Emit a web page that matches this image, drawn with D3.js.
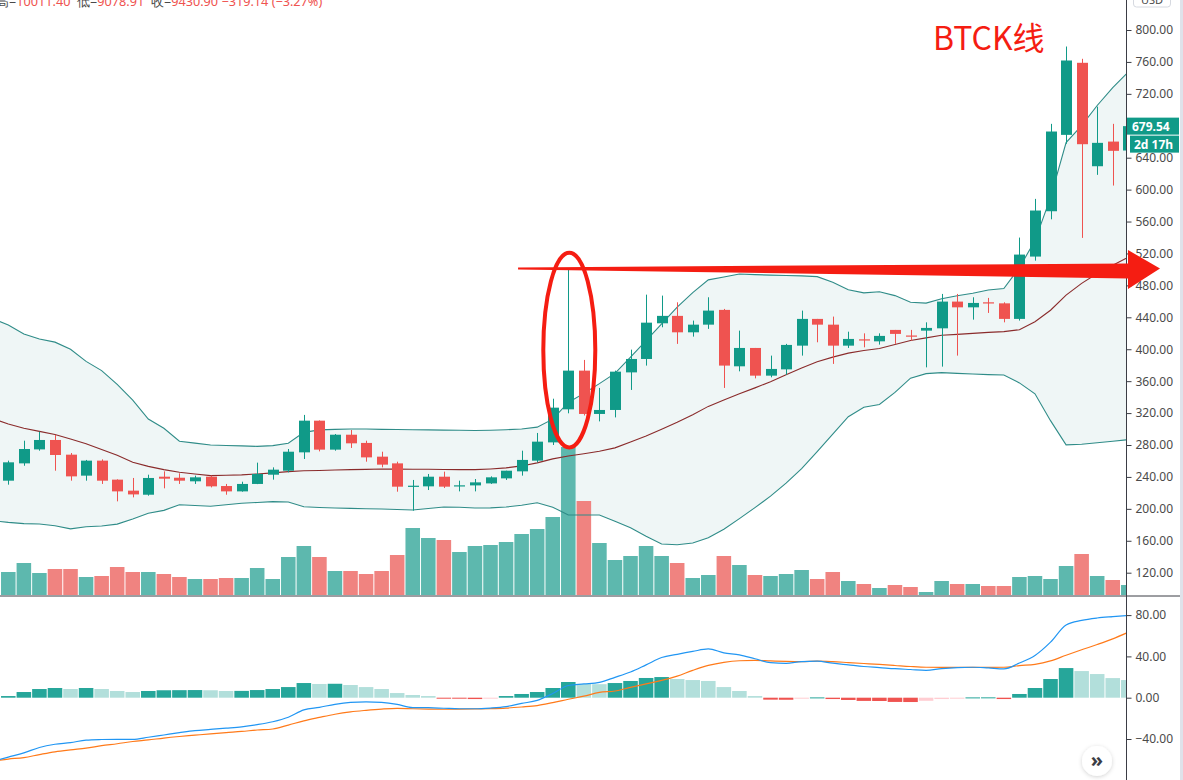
<!DOCTYPE html>
<html><head><meta charset="utf-8">
<script src="https://cdn.jsdelivr.net/npm/d3@7"></script>
<style>
html,body{margin:0;padding:0;background:#fff;overflow:hidden}
svg{display:block;font-family:"Noto Sans",sans-serif}
</style></head><body>
<svg id="c" width="1183" height="780"></svg>
<script>
// ---------- DATA ----------
const opens  = [235.3,257.0,274.5,286.3,267.9,241.6,260.4,236.6,222.8,217.7,240.3,239.0,234.5,240.3,228.6,221.9,231.2,242.8,247.8,270.8,310.5,274.2,292.9,282.6,265.4,257.0,228.2,228.2,240.3,229.0,229.4,231.9,238.2,247.0,260.4,283.3,324.7,373.2,318.9,323.9,371.0,387.8,432.5,441.8,421.2,430.8,449.3,378.6,401.6,366.9,374.8,404.5,438.0,430.8,404.5,412.4,409.9,424.2,417.2,423.3,426.2,459.7,452.5,458.8,457.5,438.0,516.1,572.9,668.6,758.9,629.3,660.2,649.0];
const highs  = [260.4,285.4,296.7,292.6,270.0,261.3,262.0,237.0,238.7,242.8,247.0,244.5,241.6,241.6,231.2,234.0,257.9,252.0,275.0,317.7,310.8,293.8,298.8,285.4,271.6,259.1,236.2,243.7,246.6,235.3,237.4,240.7,247.8,272.9,295.1,338.0,500.7,386.6,351.5,373.2,399.5,468.4,467.2,458.8,435.9,465.1,450.5,423.3,401.6,392.0,406.7,448.4,438.0,440.9,422.0,419.9,419.9,424.2,424.2,433.7,469.3,469.3,465.1,464.3,458.8,539.9,588.4,682.4,779.3,763.9,704.0,682.4,682.0];
const lows   = [230.3,254.0,272.9,247.8,235.3,235.3,231.2,209.4,214.4,216.5,225.7,231.2,231.2,226.9,217.7,221.5,231.0,236.6,245.7,262.5,272.0,272.9,276.3,259.1,252.0,221.5,197.7,223.6,226.1,221.9,221.9,231.2,236.2,241.6,258.3,280.0,319.7,317.0,309.6,314.6,349.0,379.5,427.5,406.7,415.8,425.5,351.5,372.3,363.5,364.8,368.0,392.0,408.7,381.6,401.6,402.4,405.8,406.7,410.8,377.3,378.2,392.0,437.1,445.5,433.7,435.9,511.0,562.8,657.4,539.5,618.5,605.1,640.0];
const closes = [258.3,275.0,286.3,267.5,240.7,260.4,235.3,221.9,218.1,238.7,237.8,235.3,239.5,228.2,221.9,231.2,243.7,249.1,271.6,310.5,274.2,292.9,282.1,264.5,255.4,227.8,229.0,240.3,227.8,229.5,233.2,239.5,247.8,261.3,284.2,326.8,373.2,318.9,323.9,371.9,387.8,433.3,441.8,421.2,430.8,448.4,379.5,401.6,366.9,375.3,405.4,438.0,430.8,404.5,412.9,411.6,416.7,419.2,416.5,426.7,459.7,452.5,458.0,458.0,438.0,518.6,573.8,672.8,761.8,656.9,658.6,648.6,679.54];
const volumes = [23,32,22,26,26,18,19,28,23,23,21,18,16,16,17,17,27,16,38,49,38,24,24,21,24,40,67,57,55,43,49,50,53,61,66,78,148,94,52,35,39,49,39,32,17,20,39,30,20,19,21,25,16,23,14,11,7,10,8,3,14,11,11,9,9,18,19,16,29,41,19,15,10];
// Bollinger bands (first value belongs to the bar just left of the visible range)
const bbUpper = [438.4,430.3,419.2,412.9,408.9,399.9,384.8,373.2,355.9,336.3,312.6,301.0,284.8,282.3,280.0,279.4,278.9,278.3,279.2,282.2,295.8,299.0,299.6,300.1,300.0,299.6,299.5,299.2,299.0,298.6,298.4,298.1,298.5,299.2,300.0,302.4,312.4,333.3,344.7,356.9,369.8,390.2,410.8,431.7,452.8,471.0,486.9,490.6,494.3,493.5,492.9,492.4,491.9,491.0,484.0,474.6,470.6,472.1,467.2,458.8,457.8,463.3,467.1,470.1,474.3,476.0,502.3,536.1,590.0,659.0,680.3,705.4,727.9,747.4];
const bbBasis = [313.0,306.4,301.1,297.1,293.1,287.6,281.7,274.3,267.1,258.4,253.2,249.2,245.8,243.6,241.6,242.1,242.6,243.7,245.1,246.7,247.8,248.1,248.6,249.1,249.5,250.0,249.8,249.7,249.6,249.3,249.2,249.1,250.0,251.3,253.8,257.6,262.6,266.3,269.1,272.1,276.4,283.7,291.2,299.7,308.4,318.0,328.4,336.3,344.1,351.6,359.4,367.9,376.6,384.2,390.1,395.1,398.4,401.0,405.9,410.9,414.2,417.6,418.6,419.9,421.1,422.1,424.4,434.4,448.9,467.9,482.5,494.8,505.1,515.5];
const bbLower = [185.2,183.0,181.5,181.0,178.9,174.9,177.5,178.5,180.9,187.2,194.4,198.1,205.1,204.2,203.2,205.2,207.0,208.0,209.0,208.5,202.7,201.7,201.0,200.6,200.2,199.8,199.2,198.6,200.4,202.3,202.0,201.0,201.2,202.3,204.5,207.6,202.1,192.3,192.3,192.3,184.5,176.4,165.7,156.0,155.1,157.3,163.8,174.5,187.7,201.5,215.9,232.2,250.3,271.6,293.6,315.5,327.3,330.7,345.9,363.7,369.4,370.7,369.8,368.9,368.2,367.7,357.8,344.1,310.5,280.2,281.0,282.9,284.8,286.7];
// MACD (line arrays: first value belongs to the bar just left of the visible range)
const macdLine = [-61.8,-57.6,-53.5,-48.2,-45.1,-43.5,-41.1,-40.5,-40.3,-40.3,-38.3,-36.1,-33.9,-31.9,-30.7,-29.5,-28.2,-26.1,-23.3,-18.9,-11.8,-9.3,-6.4,-4.6,-4.1,-4.6,-6.5,-9.6,-9.7,-10.2,-10.7,-10.7,-10.0,-8.6,-5.5,-2.6,4.1,11.8,13.3,14.9,19.7,24.9,31.8,38.9,42.0,44.8,47.2,43.5,41.5,37.7,33.9,33.3,35.0,35.4,33.4,31.8,30.2,29.2,28.1,27.3,26.5,28.2,29.2,29.5,28.8,27.9,33.6,40.9,53.8,70.5,74.9,77.2,78.5,79.6];
const signalLine = [-61.3,-59.4,-58.0,-55.1,-52.4,-50.5,-48.9,-46.5,-44.6,-42.4,-40.9,-39.1,-37.6,-36.3,-35.0,-33.8,-32.7,-31.3,-30.3,-26.5,-22.4,-19.1,-16.0,-13.7,-12.2,-11.0,-10.3,-10.7,-11.0,-11.2,-11.0,-10.8,-10.6,-10.1,-9.0,-7.6,-4.7,-1.5,1.5,5.1,6.5,10.0,13.4,16.7,20.9,26.5,31.3,34.3,35.8,36.1,35.6,35.2,35.0,35.4,34.9,34.0,33.1,32.2,31.2,30.2,29.5,29.4,29.4,29.4,29.4,29.5,31.1,32.3,35.6,41.1,46.4,51.5,57.0,63.4];
const histogram = [1.6,5.5,8.4,9.4,8.4,9.4,8.4,6.5,5.5,6.5,7.2,7.3,7.4,7.2,6.5,6.6,7.4,8.4,10.3,14.2,13.3,13.5,12.3,10.3,8.4,4.5,2.6,1.6,-0.4,-0.6,-1.3,-0.3,1.6,3.6,5.5,9.4,15.2,13.3,13.1,14.2,16.2,19.1,20.0,18.1,17.1,16.2,10.3,6.5,1.6,-1.9,-2.0,-0.3,0.3,-1.3,-2.2,-3.1,-3.2,-4.1,-4.2,-3.0,-1.3,-0.5,0.3,0.35,-1.3,3.6,9.4,18.1,28.7,25.8,22.9,19.0,17.1];
const priceTicks = [120,160,200,240,280,320,360,400,440,480,520,560,600,640,680,720,760,800];
const macdTicks = [-40,0,40,80];
const lastPrice = 679.54;
const countdown = "2d 17h";
const headerParts = [["高=","k"],["10011.40","r"],["  低=","k"],["9078.91","r"],["  收=","k"],["9430.90 −319.14 (−3.27%)","r"]];
const annotation = "BTCK线";

// ---------- LAYOUT ----------
const AX = 1126, MAIN_B = 595.5, MACD_T = 597;
const svg = d3.select('#c');
const x = d3.scaleLinear().domain([0,72]).range([8.3,1128.3]);
const step = x(1)-x(0);
const yP = d3.scaleLinear().domain([120,800]).range([572.7,30]);
const yV = d3.scaleLinear().domain([0,150]).range([595,445]);
const yM = d3.scaleLinear().domain([-40,80]).range([739,615.1]);
const UP='#109a88', DN='#ef5350';

const defs = svg.append('defs');
defs.append('clipPath').attr('id','cm').append('rect').attr('x',0).attr('y',0).attr('width',AX).attr('height',MAIN_B);
defs.append('clipPath').attr('id','cd').append('rect').attr('x',0).attr('y',MACD_T).attr('width',AX).attr('height',780-MACD_T);
const f = defs.append('filter').attr('id','sh').attr('x','-50%').attr('y','-50%').attr('width','200%').attr('height','200%');
f.append('feDropShadow').attr('dx',0).attr('dy',1).attr('stdDeviation',2).attr('flood-color','#000').attr('flood-opacity',0.18);

svg.append('rect').attr('width',1183).attr('height',780).attr('fill','#fff');

const main = svg.append('g').attr('clip-path','url(#cm)');
const lineIdx = d3.range(-1,73);

// BB fill
main.append('path').datum(lineIdx)
  .attr('d', d3.area().x(i=>x(i)).y0(i=>yP(bbLower[i+1])).y1(i=>yP(bbUpper[i+1])))
  .attr('fill','#eff6f6');

// volumes
main.selectAll('rect.vol').data(volumes).join('rect').attr('class','vol')
  .attr('x',(d,i)=>x(i)-step/2+0.5).attr('width',step-1)
  .attr('y',d=>yV(d)).attr('height',d=>yV(0)-yV(d))
  .attr('fill',(d,i)=>closes[i]>=opens[i]?'#5db8ae':'#f08380');

// BB lines
const bl = (arr)=>d3.line().x(i=>x(i)).y(i=>yP(arr[i+1]));
main.append('path').datum(lineIdx).attr('d',bl(bbUpper)).attr('fill','none').attr('stroke','#2f8c88').attr('stroke-width',1.1);
main.append('path').datum(lineIdx).attr('d',bl(bbLower)).attr('fill','none').attr('stroke','#2f8c88').attr('stroke-width',1.1);
main.append('path').datum(lineIdx).attr('d',bl(bbBasis)).attr('fill','none').attr('stroke','#8a2b2b').attr('stroke-width',1.1);

// candles
const cg = main.append('g');
opens.forEach((o,i)=>{
  const c=closes[i], col=c>=o?UP:DN, cx=Math.round(x(i))+0.5;
  cg.append('line').attr('x1',cx).attr('x2',cx).attr('y1',yP(highs[i])).attr('y2',yP(lows[i])).attr('stroke',col).attr('stroke-width',1);
  const top=yP(Math.max(o,c)), bot=yP(Math.min(o,c));
  cg.append('rect').attr('x',cx-5.5).attr('width',11).attr('y',top).attr('height',Math.max(1.2,bot-top)).attr('fill',col);
});

// MACD pane
const md = svg.append('g').attr('clip-path','url(#cd)');
md.selectAll('rect.h').data(histogram).join('rect').attr('class','h')
  .attr('x',(d,i)=>x(i)-step/2+0.5).attr('width',step-1)
  .attr('y',d=>Math.min(yM(0),yM(d))).attr('height',d=>Math.max(1,Math.abs(yM(d)-yM(0))))
  .attr('fill',(d,i)=>{
    const prev = i>0?histogram[i-1]:-Infinity;
    if(d>=0) return d>prev?'#26a69a':'#b2dfdb';
    return d>prev?'#ffcdd2':'#ef5350';
  });
const ml = (arr)=>d3.line().curve(d3.curveMonotoneX).x(i=>x(i)).y(i=>yM(arr[i+1]));
md.append('path').datum(lineIdx).attr('d',ml(signalLine)).attr('fill','none').attr('stroke','#ff7a1a').attr('stroke-width',1.2);
md.append('path').datum(lineIdx).attr('d',ml(macdLine)).attr('fill','none').attr('stroke','#2196f3').attr('stroke-width',1.2);

// separators / axis lines
svg.append('line').attr('x1',0).attr('x2',1180).attr('y1',596).attr('y2',596).attr('stroke','#3b3d45').attr('stroke-width',1);
svg.append('line').attr('x1',AX+0.5).attr('x2',AX+0.5).attr('y1',0).attr('y2',780).attr('stroke','#3b3d45').attr('stroke-width',1);
svg.append('rect').attr('x',1180).attr('y',0).attr('width',3).attr('height',780).attr('fill','#dfe2ea');

// price axis (label hidden where the last-price tag covers it, as in the reference)
const ly = yP(lastPrice);
const pa = svg.append('g').attr('transform',`translate(${AX+0.5},0)`)
  .call(d3.axisRight(yP).tickValues(priceTicks).tickFormat(d=>Math.abs(yP(d)-ly)<8?'':d3.format('.2f')(d)).tickSize(5).tickPadding(4));
pa.select('.domain').remove();
pa.selectAll('line').attr('stroke','#3b3d45');
pa.selectAll('text').attr('fill','#4a4a4a').style('font-size','12px').style('font-family','"Noto Sans",sans-serif');

const ma = svg.append('g').attr('transform',`translate(${AX+0.5},0)`)
  .call(d3.axisRight(yM).tickValues(macdTicks).tickFormat(d3.format('.2f')).tickSize(5).tickPadding(4));
ma.select('.domain').remove();
ma.selectAll('line').attr('stroke','#3b3d45');
ma.selectAll('text').attr('fill','#4a4a4a').style('font-size','12px').style('font-family','"Noto Sans",sans-serif');

// USD box (cut at top)
svg.append('rect').attr('x',1133.5).attr('y',-12).attr('width',37).attr('height',19).attr('rx',3).attr('fill','#fff').attr('stroke','#d6d9e0');
svg.append('text').attr('x',1152).attr('y',4).attr('text-anchor','middle').attr('fill','#4a4a4a').style('font-size','11px').text('USD');

// last price label
svg.append('rect').attr('x',AX+1).attr('y',ly-8.5).attr('width',52).attr('height',17).attr('fill',UP);
svg.append('text').attr('x',AX+6).attr('y',ly+4.5).attr('fill','#fff').style('font-size','12px').style('font-weight','bold').text(d3.format('.2f')(lastPrice));
svg.append('rect').attr('x',AX+4).attr('y',ly+9.5).attr('width',49).attr('height',17).attr('fill',UP);
svg.append('text').attr('x',AX+8).attr('y',ly+22.5).attr('fill','#fff').style('font-size','12px').style('font-weight','bold').text(countdown);

// header
const ht = svg.append('text').attr('x',-4).attr('y',6).style('font-size','12.7px').attr('xml:space','preserve');
headerParts.forEach(([t,c])=>ht.append('tspan').attr('fill',c==='r'?'#ef5350':'#4a4a4a').text(t));

// annotations
const RED='#f51d12';
svg.append('ellipse').attr('cx',x(36)+1).attr('cy',(yP(521)+yP(277))/2).attr('rx',26).attr('ry',(yP(277)-yP(521))/2)
  .attr('fill','none').attr('stroke',RED).attr('stroke-width',4);
const ax0 = x(32.77), ayTop = yP(502.5);
const arrowPts = [[ax0,ayTop],[1128,ayTop-4],[1128,250],[1160,268.5],[1128,289],[1128,ayTop+11],[ax0,ayTop+2]];
svg.append('path').attr('d',d3.line()(arrowPts)+'Z').attr('fill',RED);
svg.append('text').attr('x',933).attr('y',50).attr('fill',RED).style('font-size','32px')
  .style('font-family','"Noto Sans CJK SC","Noto Sans",sans-serif').text(annotation);

// scroll button
svg.append('circle').attr('cx',1097).attr('cy',761).attr('r',15).attr('fill','#fff').attr('filter','url(#sh)');
svg.append('text').attr('x',1097).attr('y',767).attr('text-anchor','middle').attr('fill','#3b3d45').style('font-size','20px').style('font-weight','bold').text('»');
</script>
</body></html>
